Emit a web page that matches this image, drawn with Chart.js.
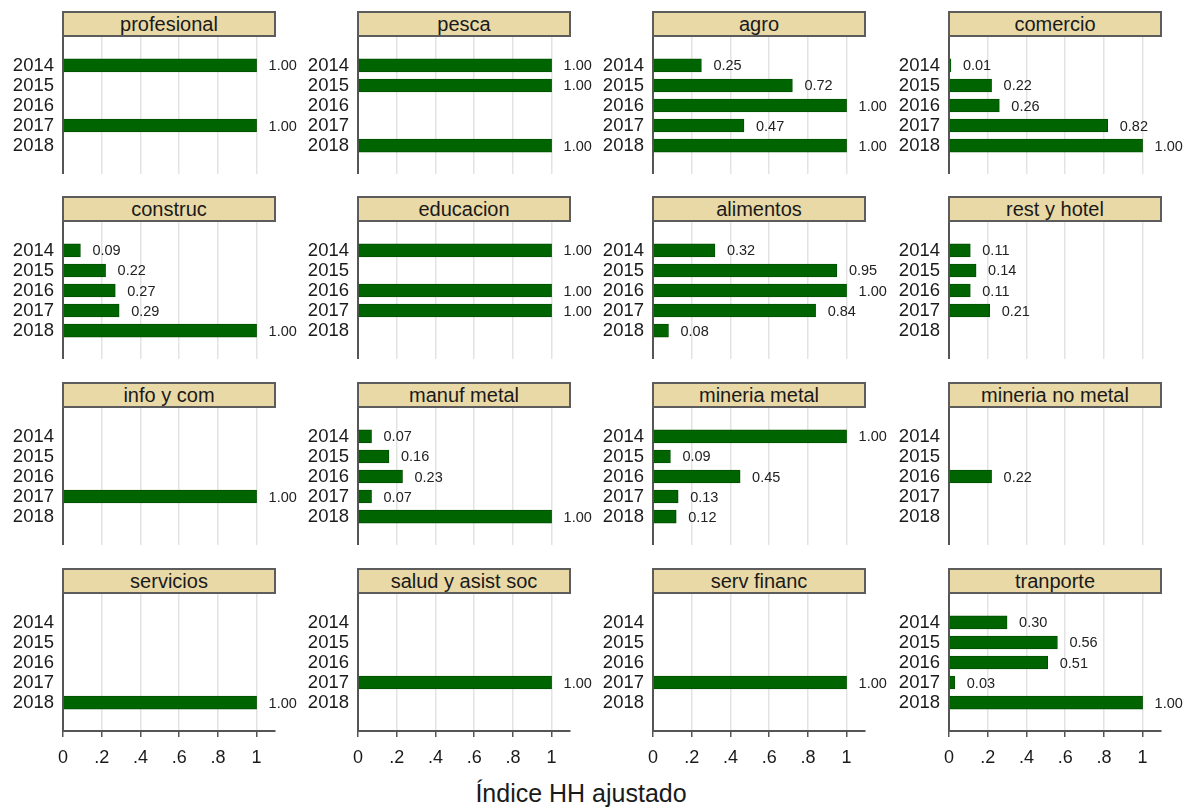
<!DOCTYPE html>
<html>
<head>
<meta charset="utf-8">
<script src="https://cdn.jsdelivr.net/npm/chart.js@4"></script>
<style>
  body { margin: 0; background: #fff; width: 1195px; height: 808px; position: relative; overflow: hidden;
         font-family: "Liberation Sans", Arial, sans-serif; }
  .cabecera { position: absolute; height: 26px; box-sizing: border-box; background: #e9d9a6;
              border: 2px solid #5c5c5c; font-size: 20px; line-height: 22px; text-align: center; color: #1a1a1a; }
  canvas.panel { position: absolute; }
  #titulo-x { position: absolute; left: 331px; width: 500px; top: 778px; text-align: center;
              font-size: 25px; line-height: 30px; color: #1a1a1a; }
</style>
</head>
<body>
<div id="titulo-x">Índice HH ajustado</div>
<script>
  // años del eje y y marcas del eje x
  const anios = [2014, 2015, 2016, 2017, 2018];
  const marcasX = [0, 0.2, 0.4, 0.6, 0.8, 1];

  const sectores = ['profesional', 'pesca', 'agro', 'comercio',
                    'construc', 'educacion', 'alimentos', 'rest y hotel',
                    'info y com', 'manuf metal', 'mineria metal', 'mineria no metal',
                    'servicios', 'salud y asist soc', 'serv financ', 'tranporte'];

  // valores por sector (2014..2018), null = sin barra
  const profesional = [1.00, null, null, 1.00, null];
  const pesca       = [1.00, 1.00, null, null, 1.00];
  const agro        = [0.25, 0.72, 1.00, 0.47, 1.00];
  const comercio    = [0.01, 0.22, 0.26, 0.82, 1.00];
  const construc    = [0.09, 0.22, 0.27, 0.29, 1.00];
  const educacion   = [1.00, null, 1.00, 1.00, null];
  const alimentos   = [0.32, 0.95, 1.00, 0.84, 0.08];
  const restHotel   = [0.11, 0.14, 0.11, 0.21, null];
  const infoCom     = [null, null, null, 1.00, null];
  const manufMetal  = [0.07, 0.16, 0.23, 0.07, 1.00];
  const mineriaMetal   = [1.00, 0.09, 0.45, 0.13, 0.12];
  const mineriaNoMetal = [null, null, 0.22, null, null];
  const servicios   = [null, null, null, null, 1.00];
  const saludAsist  = [null, null, null, 1.00, null];
  const servFinanc  = [null, null, null, 1.00, null];
  const tranporte   = [0.30, 0.56, 0.51, 0.03, 1.00];

  const valores = [profesional, pesca, agro, comercio, construc, educacion, alimentos, restHotel,
                   infoCom, manufMetal, mineriaMetal, mineriaNoMetal, servicios, saludAsist, servFinanc, tranporte];

  const colIzq = [63, 358, 653, 949];   // posición del 0 en cada columna
  const filaSup = [11, 196, 382, 568];  // parte superior de la cabecera
  const anchoPlot = 212, altoPlot = 137, anchoCanvas = 310, anchoEje = 63;
  const fuente = '"Liberation Sans", Arial, sans-serif';

  // etiquetas de valor al final de cada barra
  const etiquetas = {
    id: 'etiquetas',
    afterDatasetsDraw(chart) {
      const ctx = chart.ctx;
      const ds = chart.data.datasets[0];
      ctx.save();
      ctx.font = '14.5px ' + fuente;
      ctx.fillStyle = '#222';
      ctx.textAlign = 'left';
      ctx.textBaseline = 'middle';
      chart.getDatasetMeta(0).data.forEach((barra, k) => {
        ctx.fillText(ds.data[k].x.toFixed(2), barra.x + 12, barra.y + 1);
      });
      ctx.restore();
    }
  };

  sectores.forEach((nombre, i) => {
    const col = i % 4, fila = Math.floor(i / 4);
    const abajo = fila === 3;

    const cab = document.createElement('div');
    cab.className = 'cabecera';
    cab.style.left = (colIzq[col] - 1) + 'px';
    cab.style.top = filaSup[fila] + 'px';
    cab.style.width = (anchoPlot + 2) + 'px';
    cab.textContent = nombre;
    document.body.appendChild(cab);

    const cv = document.createElement('canvas');
    cv.className = 'panel';
    cv.width = anchoCanvas;
    cv.height = altoPlot + (abajo ? 50 : 0);
    cv.style.left = (colIzq[col] - anchoEje) + 'px';
    cv.style.top = (filaSup[fila] + 26) + 'px';
    document.body.appendChild(cv);

    const puntos = [];
    valores[i].forEach((v, k) => { if (v !== null) puntos.push({ x: v, y: anios[k] }); });

    new Chart(cv, {
      type: 'bar',
      data: {
        datasets: [{
          data: puntos,
          backgroundColor: '#006400',
          borderColor: '#004f00',
          borderWidth: 1,
          barThickness: 13
        }]
      },
      options: {
        responsive: false,
        animation: false,
        indexAxis: 'y',
        layout: { padding: { left: 0, top: 0, bottom: 0, right: anchoCanvas - anchoEje - anchoPlot } },
        plugins: { legend: { display: false }, tooltip: { enabled: false } },
        scales: {
          x: {
            type: 'linear',
            offset: false,
            min: 0,
            max: 1.095,
            afterBuildTicks: s => { s.ticks = marcasX.map(v => ({ value: v })); },
            afterFit: s => {
              s.height = abajo ? 50 : 0;
              s.paddingLeft = 0; s.paddingRight = 0;
            },
            grid: {
              display: true,
              offset: false,
              color: c => (c.tick && c.tick.value === 0) ? 'rgba(0,0,0,0)' : '#e3e3e3',
              lineWidth: 1.5,
              drawTicks: abajo,
              tickLength: 6,
              tickColor: '#555',
              tickWidth: 1.5
            },
            border: { display: abajo, color: '#555', width: 2 },
            ticks: {
              display: abajo,
              padding: 10,
              color: '#1a1a1a',
              font: { size: 18, family: fuente },
              maxRotation: 0,
              autoSkip: false,
              callback: v => (v === 0 || v === 1) ? String(v) : String(v).replace('0.', '.')
            }
          },
          y: {
            type: 'linear',
            offset: false,
            reverse: true,
            min: 2012.58,
            max: 2019.42,
            afterBuildTicks: s => { s.ticks = anios.map(v => ({ value: v })); },
            afterFit: s => {
              s.width = anchoEje;
              s.paddingTop = 0; s.paddingBottom = 0;
            },
            grid: { display: false, drawTicks: false, offset: false },
            border: { display: true, color: '#555', width: 2 },
            ticks: {
              padding: 9,
              color: '#1a1a1a',
              font: { size: 18.5, family: fuente },
              autoSkip: false,
              callback: v => String(v)
            }
          }
        }
      },
      plugins: [etiquetas]
    });
  });
</script>
</body>
</html>
